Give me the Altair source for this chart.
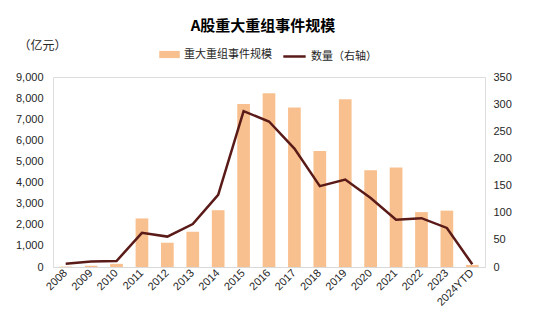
import altair as alt
import pandas as pd

years = ["2008", "2009", "2010", "2011", "2012", "2013", "2014", "2015", "2016",
         "2017", "2018", "2019", "2020", "2021", "2022", "2023", "2024YTD"]
amount = [20, 60, 150, 2300, 1150, 1670, 2690, 7720, 8230, 7550, 5500, 7950,
          4580, 4710, 2600, 2670, 100]
count = [6, 10, 11, 63, 56, 79, 133, 287, 268, 218, 149, 161, 127, 87, 90, 72, 5]

df = pd.DataFrame({"year": years, "amount": amount, "count": count,
                   "s1": "重大重组事件规模", "s2": "数量（右轴）"})

FONT = "Liberation Sans"
CJK = "Noto Sans CJK SC"
BAR = "#F9C08F"
LINE = "#5A1A18"
TXT = "#262626"

x = alt.X("year:N", sort=years,
          scale=alt.Scale(paddingInner=0.5, paddingOuter=0.25),
          axis=alt.Axis(title=None, labelAngle=-45, labelAlign="right",
                        labelBaseline="middle", ticks=False, domainColor="#d9d9d9",
                        labelFont=FONT, labelFontSize=11, labelColor=TXT,
                        labelPadding=4))

bars = alt.Chart(df).mark_bar().encode(
    x=x,
    y=alt.Y("amount:Q", scale=alt.Scale(domain=[0, 9000]),
            axis=alt.Axis(values=list(range(0, 9001, 1000)), format=",.0f",
                          title="（亿元）", titleAngle=0, titleAlign="left",
                          titleBaseline="middle", titleX=-35, titleY=-32,
                          titleFont=CJK, titleFontSize=12, titleFontWeight="normal",
                          titleColor=TXT, domain=False, ticks=False, grid=False,
                          labelFont=FONT, labelFontSize=11, labelColor=TXT,
                          labelPadding=10)),
    fill=alt.Fill("s1:N", scale=alt.Scale(range=[BAR]),
                  legend=alt.Legend(title=None, orient="none", legendX=106, legendY=-33,
                                    symbolType="M-1,-0.35H1V0.35H-1Z", symbolSize=420,
                                    symbolStrokeWidth=0,
                                    labelFont=CJK, labelFontSize=11, labelColor=TXT)),
)

line = alt.Chart(df).mark_line(strokeWidth=2.5).encode(
    x=x,
    y=alt.Y("count:Q", scale=alt.Scale(domain=[0, 350]),
            axis=alt.Axis(orient="right", values=list(range(0, 351, 50)),
                          title=None, domain=False, ticks=False, grid=False,
                          labelFont=FONT, labelFontSize=11, labelColor=TXT,
                          labelPadding=8)),
    stroke=alt.Stroke("s2:N", scale=alt.Scale(range=[LINE]),
                      legend=alt.Legend(title=None, orient="none", legendX=229, legendY=-33,
                                        symbolType="stroke", symbolSize=500,
                                        symbolStrokeWidth=2.5,
                                        labelFont=CJK, labelFontSize=11, labelColor=TXT)),
)

chart = alt.layer(bars, line).resolve_scale(y="independent").properties(
    width=432, height=190,
    padding={"left": 53, "top": 77, "right": 65, "bottom": 59},
    autosize=alt.AutoSizeParams(type="none"),
    title=alt.TitleParams("A股重大重组事件规模", font=CJK, fontSize=15,
                          fontWeight="bold", color="#000000", anchor="middle",
                          dx=-6, offset=5),
).configure_view(stroke=None).configure(background="white")

chart.save("out.html", embed_options={"renderer": "svg", "actions": False})
